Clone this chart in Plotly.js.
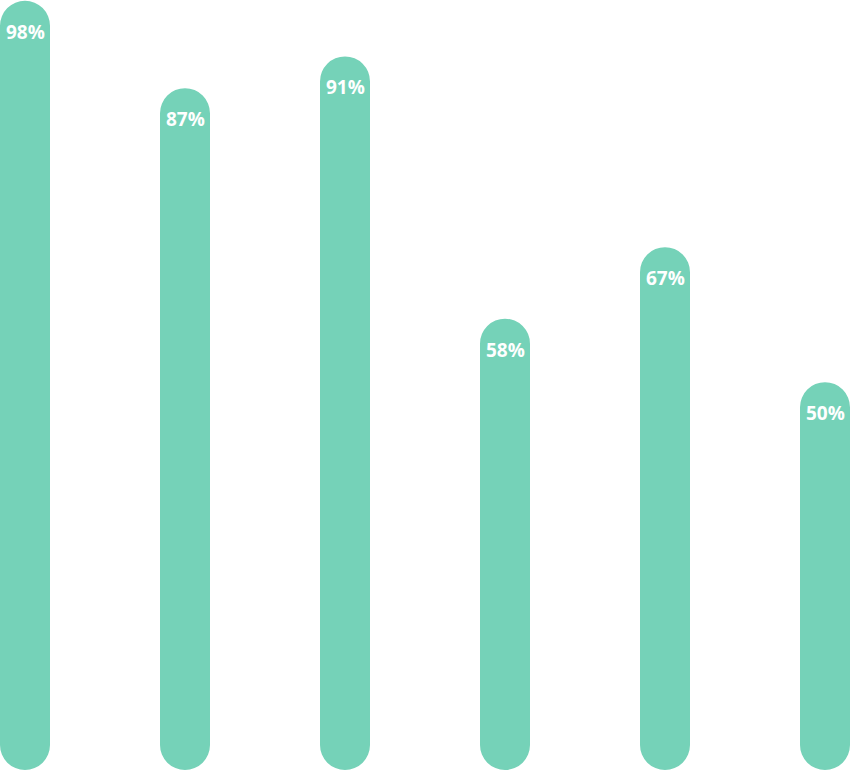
<!DOCTYPE html>
<html>
<head>
<meta charset="utf-8">
<script src="https://cdn.plot.ly/plotly-3.0.1.min.js"></script>
<style>
  html, body { margin: 0; padding: 0; background: #fff; }
  #chart { width: 850px; height: 770px; }
</style>
</head>
<body>
<div id="chart"></div>
<script>
// chart values
const categories = ['c1', 'c2', 'c3', 'c4', 'c5', 'c6'];
const values = [98, 87, 91, 58, 67, 50];
const labels = ['98%', '87%', '91%', '58%', '67%', '50%'];

const barColor = '#75d2b8';
const yMin = 1.2;
const yMax = 98.1;
const barWidth = 0.3125;

// bars start at the bottom of the axis so both ends get the rounded corners
const bars = {
    type: 'bar',
    x: categories,
    y: values.map(v => v - yMin),
    base: yMin,
    width: barWidth,
    marker: { color: barColor, cornerradius: 25, line: { width: 0 } },
    hoverinfo: 'skip'
};

const annotations = categories.map((c, i) => ({
    x: c,
    y: values[i],
    yshift: -31,
    yanchor: 'middle',
    xanchor: 'center',
    showarrow: false,
    text: '<b>' + labels[i] + '</b>',
    font: { family: 'Open Sans, sans-serif', size: 19, color: '#ffffff' }
}));

const layout = {
    width: 850,
    height: 770,
    margin: { l: 0, r: 0, t: 0, b: 0, pad: 0 },
    paper_bgcolor: '#ffffff',
    plot_bgcolor: '#ffffff',
    showlegend: false,
    xaxis: {
        type: 'category',
        range: [-0.15625, 5.15625],
        visible: false,
        fixedrange: true
    },
    yaxis: {
        range: [yMin, yMax],
        visible: false,
        fixedrange: true
    },
    annotations: annotations
};

Plotly.newPlot('chart', [bars], layout, { displayModeBar: false, staticPlot: true });
</script>
</body>
</html>
